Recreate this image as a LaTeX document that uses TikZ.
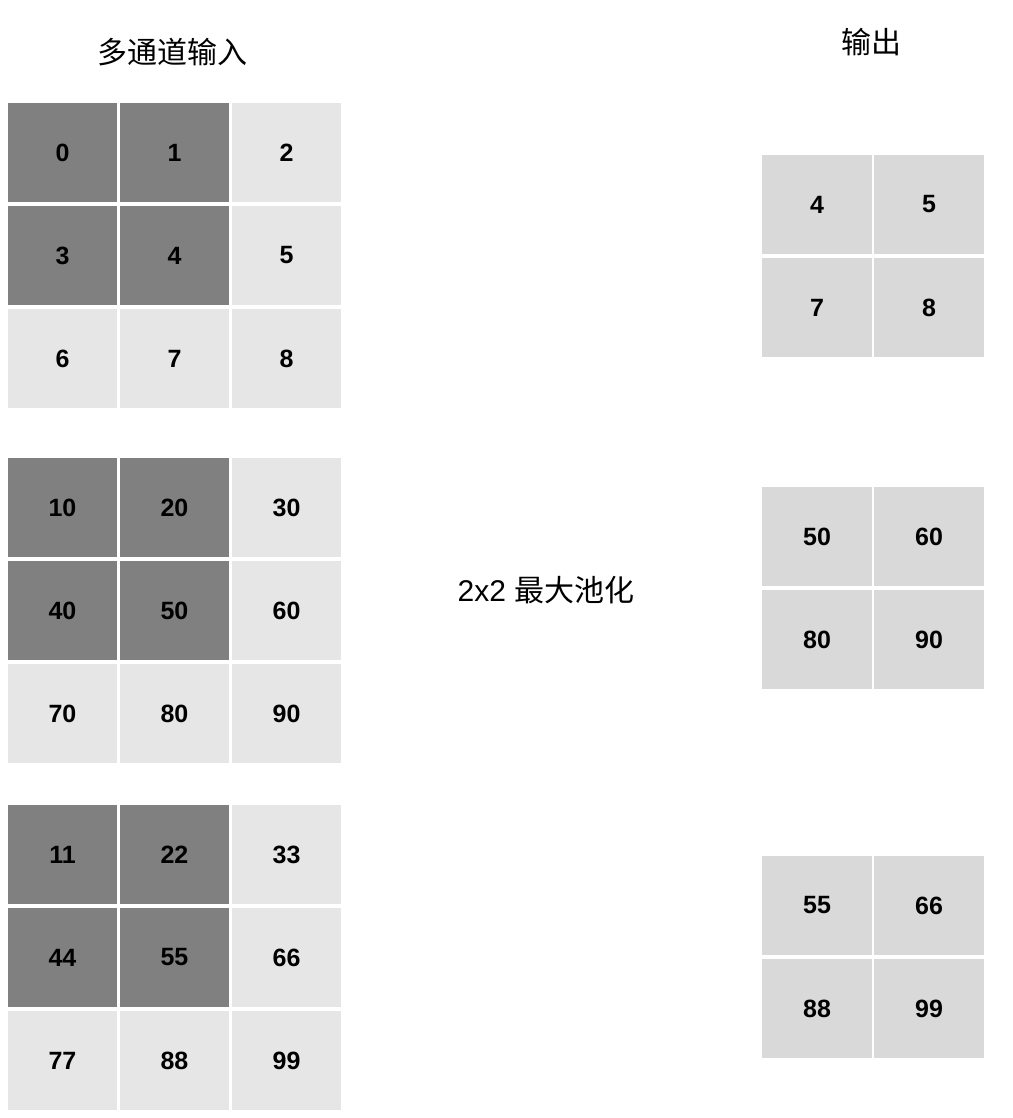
\documentclass[tikz,border=0pt]{standalone}
\usepackage{fontspec}
\setmainfont{Liberation Sans}
\newfontfamily\cjk{Noto Sans CJK SC}
\definecolor{windowgray}{HTML}{808080}
\definecolor{inputgray}{HTML}{E6E6E6}
\definecolor{outputgray}{HTML}{D9D9D9}

\begin{document}
\begin{tikzpicture}[x=1pt, y=-1pt]
  \tikzset{
    cell/.style={minimum width=109pt, minimum height=99pt, inner sep=0pt,
      font=\bfseries\fontsize{25}{25}\selectfont},
    shade0/.style={cell, fill=inputgray},
    shade1/.style={cell, fill=windowgray},
    outcell/.style={cell, minimum width=110pt, fill=outputgray},
    title/.style={font=\fontsize{30}{30}\selectfont},
  }
  \useasboundingbox (0,0) rectangle (1012,1118);

  \node[title] (in-title) at (172,52) {\cjk 多通道输入};
  \node[title] (out-title) at (871,42) {\cjk 输出};
  \node[title] (pool) at (546,590) {2x2 {\cjk 最大池化}};

  % input channels, 3x3 each, top-left 2x2 window is dark
  \foreach \g/\top/\vals in {a/103/{0,1,2,3,4,5,6,7,8},
                             b/458/{10,20,30,40,50,60,70,80,90},
                             c/805/{11,22,33,44,55,66,77,88,99}} {
    \foreach \v [count=\n from 0] in \vals {
      \pgfmathtruncatemacro\i{\n/3}
      \pgfmathtruncatemacro\j{mod(\n,3)}
      \pgfmathtruncatemacro\dark{and(\i<2,\j<2)}
      \node[shade\dark] (\g-\i-\j) at (62.5+112*\j, \top+49.5+103*\i) {\v};
    }
  }

  % pooled output, 2x2 each
  \foreach \g/\top/\vals in {a/155/{4,5,7,8},
                             b/487/{50,60,80,90},
                             c/856/{55,66,88,99}} {
    \foreach \v [count=\n from 0] in \vals {
      \pgfmathtruncatemacro\i{\n/2}
      \pgfmathtruncatemacro\j{mod(\n,2)}
      \node[outcell] (out-\g-\i-\j) at (817+112*\j, \top+49.5+103*\i) {\v};
    }
  }
\end{tikzpicture}
\end{document}
